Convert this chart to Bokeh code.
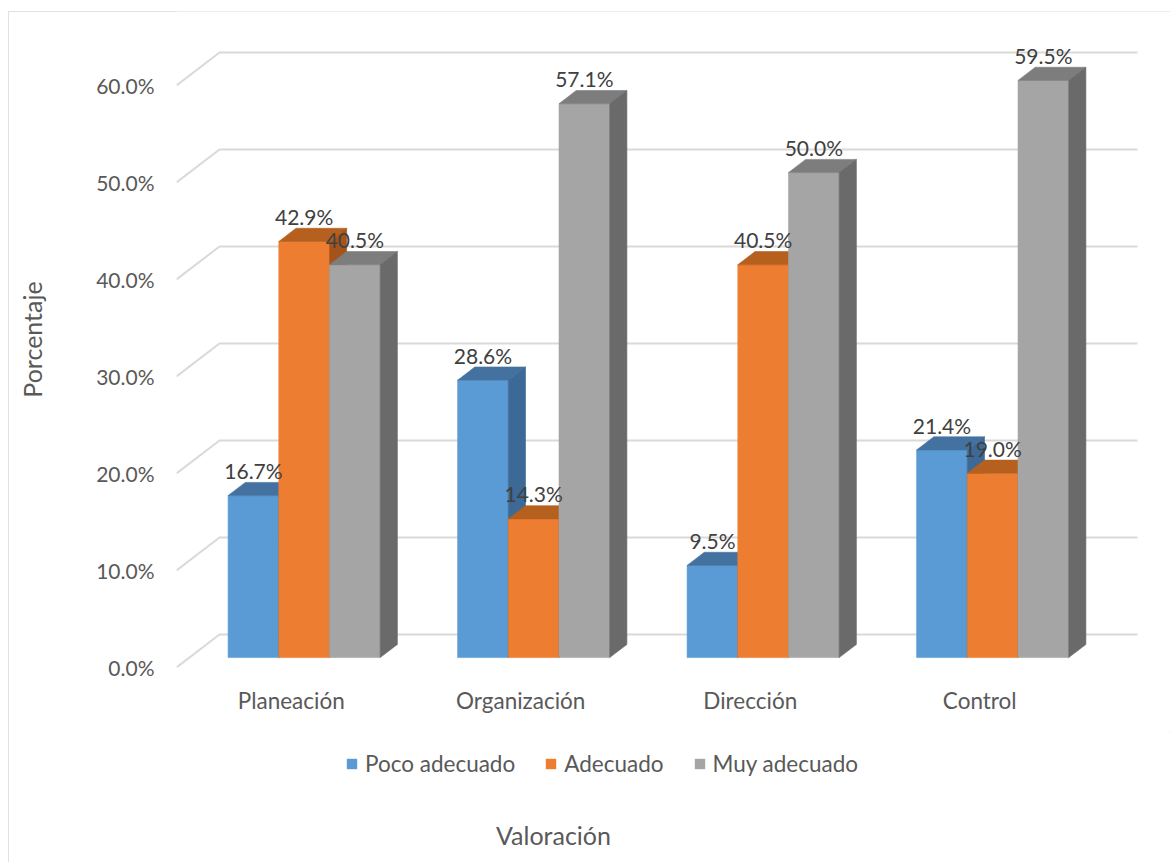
from bokeh.plotting import figure
from bokeh.layouts import column
from bokeh.models import (ColumnDataSource, FixedTicker, Legend, LegendItem,
                          CustomJSTickFormatter, PrintfTickFormatter, Range1d)
from bokeh.embed import file_html
from bokeh.resources import INLINE
from bokeh.core.properties import value

# ---------------- data ----------------
categories = ["Planeación", "Organización", "Dirección", "Control"]
series_names = ["Poco adecuado", "Adecuado", "Muy adecuado"]
poco_adecuado = [16.7, 28.6, 9.5, 21.4]
adecuado = [42.9, 14.3, 40.5, 19.0]
muy_adecuado = [40.5, 57.1, 50.0, 59.5]
y_ticks = [0, 10, 20, 30, 40, 50, 60]
x_title = "Valoración"
y_title = "Porcentaje"

front_colors = ["#5B9BD5", "#ED7D31", "#A5A5A5"]
top_colors = ["#4472A0", "#B5601F", "#7D7D7D"]
side_colors = ["#3C6995", "#A4541B", "#6A6A6A"]

FONT = "Lato"
FS_NUM = "21px"
FS_CAT = "22.5px"
FS_TITLE = "25px"
GREY_TXT = "#595959"

# ---------------- geometry (style) ----------------
W_TOTAL = 1162
H_MAIN = 720
H_LEG = 131
PX_X = 229.5          # pixels per category
PX_Y = 9.7            # pixels per percent
FRAME_L = 168
FRAME_W = W_TOTAL - FRAME_L
FRAME_H = 656
WDX = 43 / PX_X       # wall depth (x, data units)
WDY = 33 / PX_Y       # wall depth (y, data units)
BW = 50.7 / PX_X      # bar width
GAP = (1 - 3 * BW) / 2
FX = 0.3 * WDX
FY = 0.3 * WDY
BDX = 0.4 * WDX
BDY = 0.4 * WDY
LEGEND_X = 169        # px from frame left
LEGEND_Y = 85         # px from strip bottom
XTITLE_X = (545 - FRAME_L) / PX_X
XTITLE_Y = 28

x_rng = Range1d(0, FRAME_W / PX_X)

p = figure(width=W_TOTAL, height=H_MAIN, output_backend="svg", toolbar_location=None,
           x_range=x_rng, y_range=Range1d(0, FRAME_H / PX_Y),
           min_border_left=FRAME_L, min_border_right=0, min_border_top=0,
           min_border_bottom=H_MAIN - FRAME_H)
p.outline_line_color = None
p.background_fill_color = "white"
p.border_fill_color = "white"
p.grid.visible = False

# gridlines (front diagonal + back wall)
n_cat = len(categories)
gxs = [[0, WDX, n_cat + WDX] for t in y_ticks]
gys = [[t, t + WDY, t + WDY] for t in y_ticks]
p.multi_line(gxs, gys, line_color="#D9D9D9", line_width=2)

# bars as 3D boxes (front, top and side faces, drawn in painter's order)
all_series = [poco_adecuado, adecuado, muy_adecuado]
xs, ys, fills = [], [], []
lx, ly, ltxt = [], [], []
for i in range(n_cat):
    for s, vals in enumerate(all_series):
        v = vals[i]
        x0 = i + GAP + s * BW + FX
        x1 = x0 + BW
        yb = FY
        yt = FY + v
        xs.append([x0, x1, x1, x0]); ys.append([yb, yb, yt, yt]); fills.append(front_colors[s])
        xs.append([x0, x1, x1 + BDX, x0 + BDX]); ys.append([yt, yt, yt + BDY, yt + BDY]); fills.append(top_colors[s])
        xs.append([x1, x1 + BDX, x1 + BDX, x1]); ys.append([yb, yb + BDY, yt + BDY, yt]); fills.append(side_colors[s])
        lx.append((x0 + x1) / 2); ly.append(yt); ltxt.append(f"{v:.1f}%")

src = ColumnDataSource(dict(xs=xs, ys=ys, fill=fills))
p.patches("xs", "ys", source=src, fill_color="fill", line_color="fill", line_width=0.6)

p.text(lx, ly, ltxt, text_font=value(FONT), text_font_size=FS_NUM, text_color="#404040",
       text_align="center", text_baseline="alphabetic", y_offset=-25)

# y axis
ya = p.yaxis[0]
ya.ticker = FixedTicker(ticks=y_ticks)
ya.formatter = PrintfTickFormatter(format="%.1f%%")
ya.axis_line_color = None
ya.major_tick_line_color = None
ya.minor_tick_line_color = None
ya.major_tick_out = 0
ya.major_tick_in = 0
ya.major_label_standoff = 22
ya.major_label_text_font = FONT
ya.major_label_text_font_size = FS_NUM
ya.major_label_text_color = GREY_TXT
ya.axis_label = y_title
ya.axis_label_text_font = FONT
ya.axis_label_text_font_size = FS_TITLE
ya.axis_label_text_font_style = "normal"
ya.axis_label_text_color = GREY_TXT
ya.axis_label_standoff = 46

# x axis
xa = p.xaxis[0]
xa.ticker = FixedTicker(ticks=[i + 0.5 for i in range(n_cat)])
xa.formatter = CustomJSTickFormatter(args=dict(labels=categories),
                                     code="return labels[Math.round(tick - 0.5)];")
xa.axis_line_color = None
xa.major_tick_line_color = None
xa.minor_tick_line_color = None
xa.major_tick_out = 0
xa.major_tick_in = 0
xa.major_label_standoff = 19
xa.major_label_text_font = FONT
xa.major_label_text_font_size = FS_CAT
xa.major_label_text_color = GREY_TXT

# ---------------- legend + x title strip ----------------
p2 = figure(width=W_TOTAL, height=H_LEG, output_backend="svg", toolbar_location=None,
            x_range=x_rng, y_range=Range1d(0, H_LEG),
            x_axis_location=None, y_axis_location=None,
            min_border_left=FRAME_L, min_border_right=0, min_border_top=0, min_border_bottom=0)
p2.outline_line_color = None
p2.grid.visible = False
p2.background_fill_color = "white"
p2.border_fill_color = "white"

nan = float("nan")
swatches = [p2.quad(left=[nan], right=[nan], top=[nan], bottom=[nan],
                    fill_color=front_colors[s], line_color=None) for s in range(3)]
items = [LegendItem(label=series_names[s], renderers=[swatches[s]]) for s in range(3)]
legend = Legend(items=items, orientation="horizontal", location=(LEGEND_X, LEGEND_Y),
                label_text_font=FONT, label_text_font_size=FS_CAT, label_text_color=GREY_TXT,
                glyph_width=13, glyph_height=13, label_standoff=7, spacing=29,
                margin=0, padding=0, border_line_color=None, background_fill_alpha=0)
p2.add_layout(legend, "center")

p2.text([XTITLE_X], [XTITLE_Y], [x_title], text_font=value(FONT), text_font_size=FS_TITLE,
        text_color=GREY_TXT, text_align="center", text_baseline="middle")

layout = column(p, p2, spacing=0)
layout.margin = (11, 0, 0, 8)
layout.styles = {"outline": "1px solid #D9D9D9", "outline-offset": "-1px"}

open("out.html", "w").write(file_html(layout, INLINE))
